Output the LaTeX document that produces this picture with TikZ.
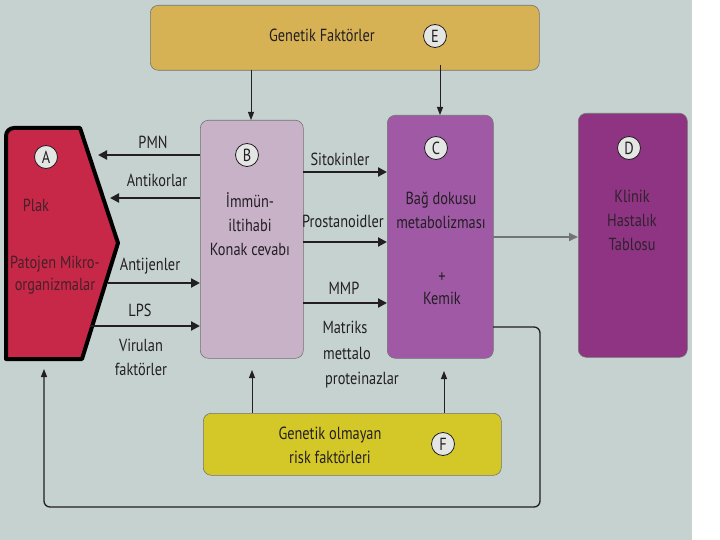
\documentclass[tikz,border=0pt]{standalone}
\usepackage{fontspec}
\setmainfont{PT Sans}[FakeStretch=0.82]
\usetikzlibrary{arrows.meta,calc}
\definecolor{bg}{RGB}{197,210,208}
\definecolor{cE}{RGB}{214,178,84}
\definecolor{cF}{RGB}{212,200,40}
\definecolor{cA}{RGB}{200,40,72}
\definecolor{cB}{RGB}{200,178,200}
\definecolor{cC}{RGB}{160,90,165}
\definecolor{cD}{RGB}{142,52,130}
\definecolor{cCirc}{RGB}{228,230,228}
\definecolor{ink}{RGB}{35,30,35}
\tikzset{
  box/.style={draw=black!55, line width=0.6pt, rounded corners=8pt, anchor=north west, inner sep=0pt},
  letter/.style={circle, draw=ink, line width=0.8pt, fill=cCirc, minimum size=23pt, inner sep=0pt, text=ink},
  lbl/.style={text=ink, align=center, inner sep=1pt},
  fat/.style={draw=ink, line width=2.2pt, -{Triangle[length=9pt,width=9pt]}},
  thin/.style={draw=ink, line width=1pt, -{Triangle[length=8pt,width=6pt]}},
}
\begin{document}
\begin{tikzpicture}[x=1pt,y=-1pt, font=\fontsize{17.5}{19}\selectfont]
\useasboundingbox (0,0) rectangle (720,540);
\fill[white] (0,0) rectangle (720,540);
\fill[bg] (0,0) rectangle (692,540);

% E box
\node[box, fill=cE, minimum width=389pt, minimum height=65pt] (E) at (150,5) {};
\node[lbl] (Et) at (322,35) {Genetik Faktörler};
\node[letter] (Ec) at (435,36) {E};

% A shape
\draw[line width=4pt, fill=cA, line join=round] (14,128) -- (80,128) -- (118,243) -- (82,359) -- (6,359) -- (6,136) to[out=90,in=180] (14,128) -- cycle;
\coordinate (A) at (60,243);
\node[letter] (Ac) at (46,157) {A};
\node[lbl, text=ink!80!cA] (At1) at (36,205) {Plak};
\node[lbl, text=ink!80!cA] (At2) at (55,275) {Patojen Mikro-\\[3pt]organizmalar};

% B box
\node[box, fill=cB, minimum width=103pt, minimum height=238pt] (B) at (200,120) {};
\node[letter] (Bc) at (247,155) {B};
\node[lbl] (Bt) at (250,224) {İmmün-\\[5pt]iltihabi\\[5pt]Konak cevabı};

% C box
\node[box, fill=cC, minimum width=106pt, minimum height=243pt] (C) at (387,115) {};
\node[letter] (Cc) at (436,148) {C};
\node[lbl] (Ct1) at (441,210) {Bağ dokusu\\[5pt]metabolizması};
\node[lbl] (Ct2) at (442,289) {+\\[3pt]Kemik};

% D box
\node[box, fill=cD, minimum width=109pt, minimum height=244pt] (D) at (578,113) {};
\node[letter] (Dc) at (629,148) {D};
\node[lbl, text=ink!88!cD] (Dt) at (632,220) {Klinik\\[5pt]Hastalık\\[5pt]Tablosu};

% F box
\node[box, fill=cF, minimum width=298pt, minimum height=62pt] (F) at (203,413) {};
\node[lbl] (Ft) at (330,445) {Genetik olmayan\\[5pt]risk faktörleri};
\node[letter] (Fc) at (443,444) {F};

% E arrows
\coordinate (e1) at (251,70);
\coordinate (e2) at (440,65);
\draw[thin] (e1) -- (e1 |- B.north);
\draw[thin] (e2) -- (e2 |- C.north);

% F arrows
\coordinate (f1) at (252,413);
\coordinate (f2) at (444,413);
\draw[thin] (f1) -- (252,370);
\draw[thin] (f2) -- (444,371);

% B -> A
\coordinate (pmn) at (98,155);
\coordinate (ant) at (110,198);
\draw[fat] (B.west |- pmn) -- (pmn);
\draw[fat] (B.west |- ant) -- (ant);
\node[lbl] (Lpmn) at (153,142) {PMN};
\node[lbl] (Lant) at (157,180) {Antikorlar};

% A -> B
\coordinate (aj) at (108,283);
\coordinate (lps) at (90,326);
\draw[fat] (aj) -- (aj -| B.west);
\draw[fat] (lps) -- (lps -| B.west);
\node[lbl] (Laj) at (150,266) {Antijenler};
\node[lbl] (Llps) at (140,310) {LPS};
\node[lbl] (Lvir) at (141,357) {Virulan\\[5pt]faktörler};

% B -> C
\coordinate (s1) at (303,172);
\coordinate (s2) at (303,242);
\coordinate (s3) at (303,303);
\draw[fat] (s1) -- (s1 -| C.west);
\draw[fat] (s2) -- (s2 -| C.west);
\draw[fat] (s3) -- (s3 -| C.west);
\node[lbl] (Ls1) at (340,159) {Sitokinler};
\node[lbl] (Ls2) at (343,221) {Prostanoidler};
\node[lbl] (Ls3) at (344,288) {MMP};
\node[lbl] (Ls4) at (345,327) {Matriks};
\node[lbl] (Ls5) at (347,353) {mettalo};
\node[lbl] (Ls6) at (362,380) {proteinazlar};

% C -> D
\coordinate (cd) at (493,237);
\draw[draw=black!55, line width=1.8pt, -{Triangle[length=9pt,width=8pt]}] (cd) -- (cd -| D.west);

% feedback
\coordinate (fb) at (493,327);
\draw[draw=ink, line width=1.3pt, rounded corners=6pt, -{Triangle[length=8pt,width=6pt]}]
  (fb) -- (540,327) -- (540,507) -- (44,507) -- (44,369);
\end{tikzpicture}
\end{document}
